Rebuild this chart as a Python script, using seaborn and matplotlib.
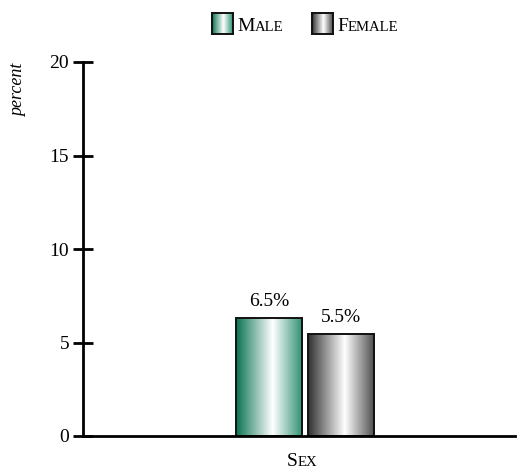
import numpy as np
import pandas as pd
import matplotlib
matplotlib.use("Agg")
import matplotlib.pyplot as plt
import seaborn as sns
from matplotlib.colors import LinearSegmentedColormap

# chart data
category = ["Sex", "Sex"]
groups = ["Male", "Female"]
values = [6.3, 5.45]
value_labels = ["6.5%", "5.5%"]
y_ticks = [0, 5, 10, 15, 20]

sns.set_theme(style="white")
plt.rcParams["font.family"] = ["Liberation Serif", "DejaVu Serif"]

df = pd.DataFrame({"cat": category, "group": groups, "value": values})

W, H = 520, 472
fig = plt.figure(figsize=(W / 100, H / 100), dpi=100)
ax = fig.add_axes([83 / W, 1 - 436 / H, 432 / W, 374 / H])

sns.barplot(data=df, x="cat", y="value", hue="group", hue_order=groups,
            width=0.835, gap=0.083, legend=False, ax=ax,
            edgecolor="#111111", linewidth=1.4)

cmaps = {
    "Male": LinearSegmentedColormap.from_list(
        "m", [(0, "#0a7353"), (0.55, "#ffffff"), (1, "#2a8f70")]),
    "Female": LinearSegmentedColormap.from_list(
        "f", [(0, "#303030"), (0.55, "#ffffff"), (1, "#4a4a4a")]),
}
grad = np.linspace(0, 1, 256).reshape(1, -1)

bars = sorted([p for p in ax.patches if p.get_height() > 0], key=lambda p: p.get_x())
for patch, g, lab in zip(bars, groups, value_labels):
    x0, y0 = patch.get_x(), patch.get_y()
    w, h = patch.get_width(), patch.get_height()
    patch.set_facecolor("none")
    ax.imshow(grad, cmap=cmaps[g], extent=[x0, x0 + w, y0, y0 + h],
              aspect="auto", zorder=patch.get_zorder() - 0.05, clip_path=patch,
              interpolation="bilinear")
    ax.text(x0 + w / 2, h + 0.45, lab, ha="center", va="bottom", fontsize=14,
            color="black")

ax.set_xlim(-222 / 172.5, 210 / 172.5)
ax.set_ylim(0, 20)
ax.set_yticks(y_ticks)
ax.set_xticks([])
ax.set_xlabel("")
ax.set_ylabel("")
sns.despine(ax=ax)
for s in ["left", "bottom"]:
    ax.spines[s].set_linewidth(2)
    ax.spines[s].set_color("black")
ax.tick_params(axis="y", direction="inout", length=14, width=2, pad=3,
               labelsize=14, colors="black", left=True)


def small_caps(x, y, word, size, ha="left"):
    r = fig.canvas.get_renderer()
    t1 = fig.text(x, y, word[0], fontsize=size, va="baseline", color="black")
    t2 = fig.text(x, y, word[1:].upper(), fontsize=size * 0.76, va="baseline",
                  color="black")
    w1 = t1.get_window_extent(r).width / fig.bbox.width
    w2 = t2.get_window_extent(r).width / fig.bbox.width
    start = x - (w1 + w2) / 2 if ha == "center" else x
    t1.set_x(start)
    t2.set_x(start + w1)


# x label
small_caps(302 / W, 1 - 466 / H, "Sex", 14, ha="center")

# y label
fig.text(19 / W, 1 - 90 / H, "percent", rotation=90, style="italic",
         fontsize=13, ha="center", va="center", color="black")

# legend
for g, px, tx in [("Male", 212, 237), ("Female", 312, 337)]:
    sw = fig.add_axes([px / W, 1 - 34 / H, 21 / W, 21 / H])
    sw.imshow(grad, cmap=cmaps[g], aspect="auto", interpolation="bilinear")
    sw.set_xticks([])
    sw.set_yticks([])
    for s in sw.spines.values():
        s.set_linewidth(1.4)
        s.set_color("#111111")
    small_caps(tx / W, 1 - 31 / H, g, 14)

fig.savefig("out.png", dpi=100)
